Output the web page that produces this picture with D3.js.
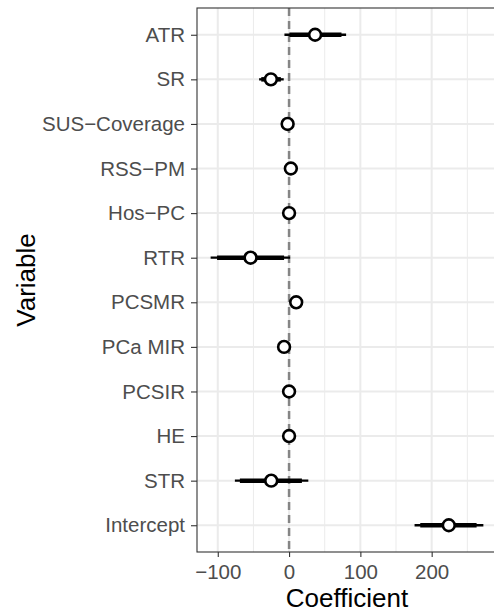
<!DOCTYPE html>
<html>
<head>
<meta charset="utf-8">
<script src="https://cdn.jsdelivr.net/npm/d3@7"></script>
<style>
  body { margin: 0; background: #fff; }
  svg { display: block; }
  text { font-family: Helvetica, "Liberation Sans", Arial, sans-serif; }
</style>
</head>
<body>
<div id="chart"></div>
<script>
const variables = ["ATR", "SR", "SUS\u2212Coverage", "RSS\u2212PM", "Hos\u2212PC", "RTR",
  "PCSMR", "PCa MIR", "PCSIR", "HE", "STR", "Intercept"];
const estimate = [36.5, -25.5, -2, 2.5, 0, -54, 10, -7, 0, 0, -25, 224];
// 95% interval (thin line)
const lower95 = [-6.5, -42, -5, -0.5, -3, -110, 7, -10, -3, -3, -76, 176];
const upper95 = [80, -7.5, 1, 5.5, 3, 1.5, 13, -4, 3, 3, 27, 272.5];
// 90% interval (thick line)
const lower90 = [0.5, -39, -4.5, 0, -2.5, -101, 7.5, -9.5, -2.5, -2.5, -69, 184];
const upper90 = [73.5, -11.5, 0.5, 5, 2.5, -7, 12.5, -4.5, 2.5, 2.5, 18, 263];
const xTicks = [-100, 0, 100, 200];

const width = 494;
const height = 613;
const panel = { left: 197, top: 8, right: 497, bottom: 552 };

const data = variables.map((v, i) => ({
  name: v, est: estimate[i],
  lo95: lower95[i], hi95: upper95[i],
  lo90: lower90[i], hi90: upper90[i]
}));

const svg = d3.select("#chart")
  .append("svg")
  .attr("width", width)
  .attr("height", height);

// ggplot-style 5% expansion
const lo = d3.min(data, d => d.lo95);
const hi = d3.max(data, d => d.hi95);
const pad = (hi - lo) * 0.05;

const x = d3.scaleLinear()
  .domain([lo - pad, hi + pad])
  .range([panel.left, panel.right]);

const y = d3.scalePoint()
  .domain(variables)
  .range([panel.top, panel.bottom])
  .padding(0.6);

const grid = svg.append("g");

// minor grid
const minor = d3.range(-150, 301, 100).filter(v => x(v) > panel.left && x(v) < panel.right);
grid.selectAll(".minor")
  .data(minor)
  .join("line")
  .attr("x1", d => x(d)).attr("x2", d => x(d))
  .attr("y1", panel.top).attr("y2", panel.bottom)
  .attr("stroke", "#ebebeb")
  .attr("stroke-width", 1);

// major grid
grid.selectAll(".majorx")
  .data(x.ticks(5).filter(v => x(v) > panel.left && x(v) < panel.right))
  .join("line")
  .attr("x1", d => x(d)).attr("x2", d => x(d))
  .attr("y1", panel.top).attr("y2", panel.bottom)
  .attr("stroke", "#ebebeb")
  .attr("stroke-width", 2);

grid.selectAll(".majory")
  .data(variables)
  .join("line")
  .attr("x1", panel.left).attr("x2", panel.right)
  .attr("y1", d => y(d)).attr("y2", d => y(d))
  .attr("stroke", "#ebebeb")
  .attr("stroke-width", 2);

// zero line
svg.append("line")
  .attr("x1", x(0)).attr("x2", x(0))
  .attr("y1", panel.top).attr("y2", panel.bottom)
  .attr("stroke", "#858585")
  .attr("stroke-width", 2.5)
  .attr("stroke-dasharray", "8,5");

// intervals
const rows = svg.append("g")
  .selectAll("g")
  .data(data)
  .join("g");

rows.append("line")
  .attr("x1", d => x(d.lo95)).attr("x2", d => x(d.hi95))
  .attr("y1", d => y(d.name)).attr("y2", d => y(d.name))
  .attr("stroke", "#000")
  .attr("stroke-width", 2.3);

rows.append("line")
  .attr("x1", d => x(d.lo90)).attr("x2", d => x(d.hi90))
  .attr("y1", d => y(d.name)).attr("y2", d => y(d.name))
  .attr("stroke", "#000")
  .attr("stroke-width", 4.5);

rows.append("circle")
  .attr("cx", d => x(d.est))
  .attr("cy", d => y(d.name))
  .attr("r", 5.9)
  .attr("fill", "#fff")
  .attr("stroke", "#000")
  .attr("stroke-width", 2.6);

// panel border
svg.append("rect")
  .attr("x", panel.left).attr("y", panel.top)
  .attr("width", panel.right - panel.left)
  .attr("height", panel.bottom - panel.top)
  .attr("fill", "none")
  .attr("stroke", "#333")
  .attr("stroke-width", 1.1);

// axes
const xAxis = svg.append("g")
  .attr("transform", `translate(0,${panel.bottom})`)
  .call(d3.axisBottom(x).tickValues(xTicks).tickSize(5).tickPadding(7)
    .tickFormat(d => d < 0 ? "\u2212" + Math.abs(d) : d));

const yAxis = svg.append("g")
  .attr("transform", `translate(${panel.left},0)`)
  .call(d3.axisLeft(y).tickSize(6).tickPadding(6));

[xAxis, yAxis].forEach(a => {
  a.select(".domain").remove();
  a.selectAll(".tick line").attr("stroke", "#333").attr("stroke-width", 1.1);
  a.selectAll(".tick text")
    .attr("fill", "#4d4d4d")
    .style("font-size", "20.5px")
    .style("font-family", "Helvetica, 'Liberation Sans', Arial, sans-serif");
});

// titles
svg.append("text")
  .attr("x", (panel.left + panel.right) / 2)
  .attr("y", 607)
  .attr("text-anchor", "middle")
  .style("font-size", "26px")
  .text("Coefficient");

svg.append("text")
  .attr("transform", `translate(35,${(panel.top + panel.bottom) / 2}) rotate(-90)`)
  .attr("text-anchor", "middle")
  .style("font-size", "26px")
  .text("Variable");
</script>
</body>
</html>
